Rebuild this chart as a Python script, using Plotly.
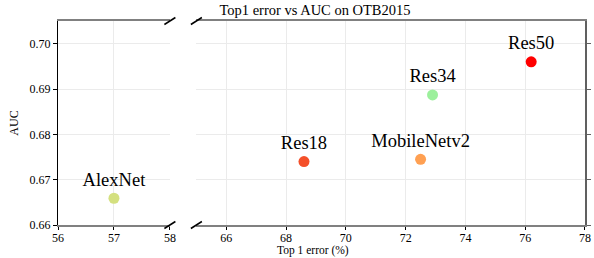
import plotly.graph_objects as go

models = ["AlexNet", "Res18", "MobileNetv2", "Res34", "Res50"]
top1_err = [57.0, 68.6, 72.5, 72.9, 76.2]
auc = [0.6659, 0.6740, 0.6745, 0.6887, 0.6960]
colors = ["#d4e07f", "#f4502a", "#ffa052", "#9cf09c", "#ff0000"]
left_ticks = [56, 57, 58]
right_ticks = [66, 68, 70, 72, 74, 76, 78]
y_ticks = [0.66, 0.67, 0.68, 0.69, 0.70]

font = "Liberation Serif"
fig = go.Figure()

for m, x, y, c in zip(models, top1_err, auc, colors):
    ax = "x" if x < 60 else "x2"
    ay = "y" if x < 60 else "y2"
    fig.add_trace(go.Scatter(
        x=[x], y=[y], mode="markers+text", text=[m], textposition="top center",
        textfont=dict(family=font, size=18.5, color="black"),
        marker=dict(size=11, color=c), xaxis=ax, yaxis=ay, showlegend=False,
        cliponaxis=False))

W, H = 594, 258
ml, mr, mt, mb = 57.5, 9, 21, 33
pw = W - ml - mr
d1 = (169.5 - ml) / pw
d2 = (196 - ml) / pw

common_x = dict(showline=True, linecolor="#808080", linewidth=1.5, mirror=True,
                ticks="outside", ticklen=3.5, tickcolor="black", automargin=False,
                ticklabelstandoff=-3,
                showgrid=True, gridcolor="#ebebeb", gridwidth=1, zeroline=False,
                tickfont=dict(family=font, size=12, color="black"))

fig.update_layout(
    width=W, height=H,
    margin=dict(l=ml, r=mr, t=mt, b=mb, autoexpand=False),
    plot_bgcolor="white", paper_bgcolor="white",
    title=dict(text="Top1 error vs AUC on OTB2015", x=315 / W, xanchor="center",
               y=1 - 9.5 / H, yanchor="middle",
               font=dict(family=font, size=14.5, color="black")),
    xaxis=dict(domain=[0, d1], range=[56, 58], tickvals=left_ticks, anchor="y", **common_x),
    xaxis2=dict(domain=[d2, 1], range=[65, 78], tickvals=right_ticks, anchor="y2", **common_x),
    yaxis=dict(range=[0.66, 0.705], tickvals=y_ticks, tickformat=".2f", anchor="x",
               showline=True, linecolor="black", linewidth=1.2, ticks="outside",
               ticklen=4, tickcolor="black", showgrid=True, gridcolor="#ebebeb",
               zeroline=False, automargin=False,
               tickfont=dict(family=font, size=12, color="black"),
               title=dict(text="AUC", font=dict(family=font, size=12, color="black"),
                          standoff=8)),
    yaxis2=dict(range=[0.66, 0.705], tickvals=y_ticks, anchor="x2", side="right",
                showline=True, linecolor="#606060", linewidth=1.5, ticks="outside",
                ticklen=4, tickcolor="#606060", showticklabels=False, automargin=False,
                showgrid=True, gridcolor="#ebebeb", zeroline=False),
)

fig.add_annotation(text="Top 1 error (%)", xref="paper", yref="paper",
                   x=(313 - ml) / pw, y=0, yshift=-25.5, showarrow=False,
                   yanchor="middle", font=dict(family=font, size=11.5, color="black"))

# break marks
for xr, yr, xa in [("x domain", "y domain", 1), ("x2 domain", "y2 domain", 0)]:
    for ya in [0, 1]:
        fig.add_shape(type="line", xref=xr, yref=yr, xsizemode="pixel", ysizemode="pixel",
                      xanchor=xa, yanchor=ya, x0=-5.5, x1=5.5, y0=-3.5, y1=3.5,
                      line=dict(color="black", width=1.5))

fig.write_html("out.html", config={"displayModeBar": False},
               post_script="document.body.style.margin='0';document.body.style.padding='0';")
